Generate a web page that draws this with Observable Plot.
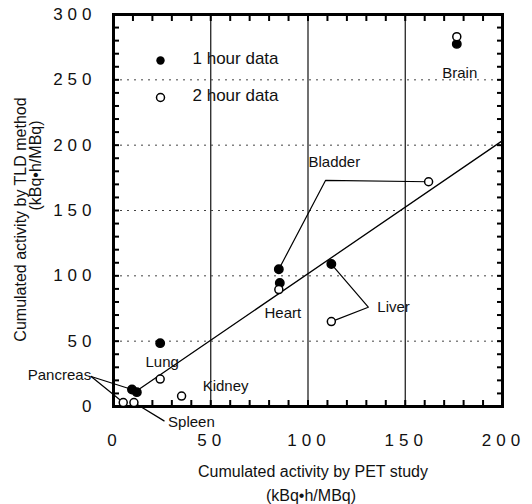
<!DOCTYPE html>
<html><head><meta charset="utf-8">
<script src="https://cdn.jsdelivr.net/npm/d3@7"></script>
<script src="https://cdn.jsdelivr.net/npm/@observablehq/plot@0.6"></script>
<style>
body{margin:0;background:#fff;}
svg{font-family:"Liberation Sans",Arial,Helvetica,sans-serif;}
</style></head><body><div id="chart"></div>
<script>
// ---- data ----
const organs = ["Brain","Bladder","Heart","Liver","Lung","Kidney","Pancreas","Spleen"];
const pet1 = [176.5, 85, 85.5, 112, 24, null, 9.5, 12];
const tld1 = [277.5, 105, 94.5, 109, 48.5, null, 13, 11];
const pet2 = [176.5, 162, 85, 112, 24, 35, 5, 10.5];
const tld2 = [283, 172, 89.5, 65, 21, 8, 3, 3];
const fitX = [12, 200];
const fitY = [12, 203.5];
const xTicks = [0, 50, 100, 150, 200];
const yTicks = [0, 50, 100, 150, 200, 250, 300];
const xMinor = d3.range(0, 201, 10);
const yMinor = d3.range(0, 301, 10);
const vGrid = [50, 100, 150];
const hGrid = [50, 100, 150, 200, 250];
const legendLabels = ["1 hour data", "2 hour data"];
const xTitle = ["Cumulated activity by PET study", "(kBq\u2022h/MBq)"];
const yTitle = ["Cumulated activity by TLD method", "(kBq\u2022h/MBq)"];

// ---- build tables ----
const one = organs.map((o, i) => ({organ: o, x: pet1[i], y: tld1[i]})).filter(d => d.x != null);
const two = organs.map((o, i) => ({organ: o, x: pet2[i], y: tld2[i]}));
const fit = fitX.map((x, i) => ({x, y: fitY[i]}));
const P = (s, o) => {
  const i = organs.indexOf(o);
  return s === 1 ? {x: pet1[i], y: tld1[i]} : {x: pet2[i], y: tld2[i]};
};
// annotation anchors (leader elbows / label spots)
const bladderElbow = {x: 109, y: 173};
const liverElbow = {x: 131, y: 76};
const pancreasSpot = {x: -11.5, y: 23};
const spleenSpot = {x: 26, y: -11};
const leaders = [
  [P(1,"Bladder"), bladderElbow, P(2,"Bladder")],
  [P(1,"Liver"), liverElbow, P(2,"Liver")],
  [pancreasSpot, P(1,"Pancreas")],
  [pancreasSpot, P(2,"Pancreas")],
  [spleenSpot, P(2,"Spleen")]
].flatMap((pts, k) => pts.map(p => ({...p, k})));

const lab = (text, pos, opts) => Plot.text([text], {x: () => pos.x, y: () => pos.y, text: d => d, fontSize: 15, fill: "#111", ariaLabel: "organ label", ...opts});
const ttl = (text, opts) => Plot.text([text], {text: d => d, lineAnchor: "middle", textAnchor: "middle", fontSize: 16, fill: "#111", ariaLabel: "axis title", ...opts});
const T = 6; // inward tick length (px)
const tickAxis = {tickSize: T, tickFormat: () => "", stroke: "#000", strokeWidth: 2};

const chart = Plot.plot({
  width: 532, height: 504,
  marginTop: 14, marginRight: 30, marginBottom: 98, marginLeft: 113,
  x: {domain: [0, 200], label: null},
  y: {domain: [0, 300], label: null},
  marks: [
    Plot.ruleX(vGrid, {stroke: "#111", strokeWidth: 1.2}),
    Plot.ruleY(hGrid, {stroke: "#444", strokeWidth: 1, strokeDasharray: "2,5"}),
    Plot.line(fit, {x: "x", y: "y", stroke: "#000", strokeWidth: 1.3}),
    Plot.line(leaders, {x: "x", y: "y", z: "k", stroke: "#000", strokeWidth: 1.2}),
    // inward minor ticks on all four sides (outward axis ticks shifted inside)
    Plot.axisX({anchor: "bottom", ticks: xMinor, dy: -T, ...tickAxis}),
    Plot.axisX({anchor: "top", ticks: xMinor, dy: T, ...tickAxis}),
    Plot.axisY({anchor: "left", ticks: yMinor, dx: T, ...tickAxis}),
    Plot.axisY({anchor: "right", ticks: yMinor, dx: -T, ...tickAxis}),
    Plot.axisX({ticks: xTicks, tickSize: 0, tickPadding: 27, dx: 1, fontSize: 17, fill: "#111"}),
    Plot.axisY({ticks: yTicks, tickSize: 0, tickPadding: 17, fontSize: 17, fill: "#111"}),
    Plot.frame({stroke: "#000", strokeWidth: 3}),
    Plot.dot(one, {x: "x", y: "y", r: 4.2, fill: "#000", stroke: "#000"}),
    Plot.dot(two, {x: "x", y: "y", r: 4, fill: "#fff", stroke: "#000", strokeWidth: 1.5}),
    // organ labels
    lab("Brain", P(1,"Brain"), {dx: 3, dy: 29}),
    lab("Bladder", bladderElbow, {dx: -17, dy: -18, textAnchor: "start"}),
    lab("Heart", P(2,"Heart"), {dx: 4, dy: 24}),
    lab("Liver", liverElbow, {dx: 9, dy: 0, textAnchor: "start"}),
    lab("Lung", P(2,"Lung"), {dx: 2, dy: -17}),
    lab("Kidney", P(2,"Kidney"), {dx: 44, dy: -10}),
    lab("Pancreas", pancreasSpot, {dx: 0, dy: -1, textAnchor: "end"}),
    lab("Spleen", spleenSpot, {dx: 4, dy: 1, textAnchor: "start"}),
    // legend
    Plot.dot([legendLabels[0]], {frameAnchor: "top-left", dx: 47, dy: 46, r: 4.2, fill: "#000"}),
    Plot.dot([legendLabels[1]], {frameAnchor: "top-left", dx: 47, dy: 83, r: 4, fill: "#fff", stroke: "#000", strokeWidth: 1.5}),
    Plot.text([legendLabels[0]], {frameAnchor: "top-left", dx: 79, dy: 44, lineAnchor: "middle", text: d => d, textAnchor: "start", fontSize: 17, fill: "#111", ariaLabel: "legend label"}),
    Plot.text([legendLabels[1]], {frameAnchor: "top-left", dx: 79, dy: 81, lineAnchor: "middle", text: d => d, textAnchor: "start", fontSize: 17, fill: "#111", ariaLabel: "legend label"}),
    // axis titles
    ttl(xTitle[0], {frameAnchor: "bottom", dx: 5, dy: 65}),
    ttl(xTitle[1], {frameAnchor: "bottom", dx: 3, dy: 89}),
    ttl(yTitle[0], {frameAnchor: "left", dx: -93, dy: 9, rotate: -90}),
    ttl(yTitle[1], {frameAnchor: "left", dx: -78, dy: -45, rotate: -90})
  ]
});
const ls = (sel, v) => chart.querySelectorAll(sel).forEach(t => t.setAttribute("letter-spacing", v));
ls('g[aria-label="x-axis tick label"] text, g[aria-label="y-axis tick label"] text', "5");
ls('g[aria-label="axis title"] text', "1.1");
ls('g[aria-label="organ label"] text', "0.9");
ls('g[aria-label="legend label"] text', "1.2");
document.getElementById("chart").appendChild(chart);
</script></body></html>
